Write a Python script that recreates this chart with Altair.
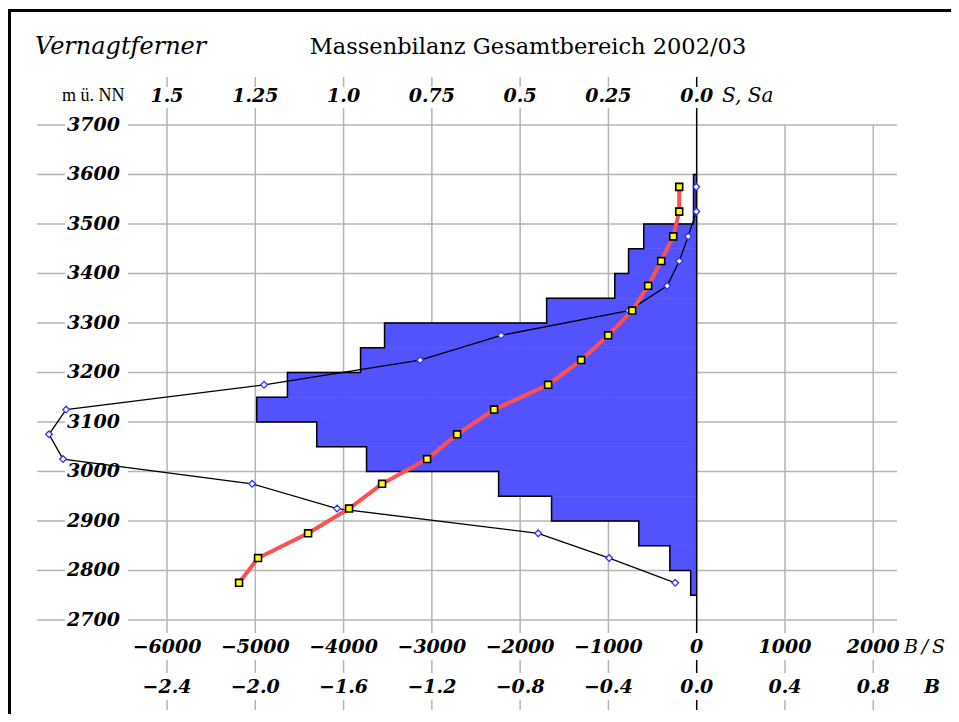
import altair as alt
import pandas as pd

# ---------------- data ----------------
BAND_BOTTOM = [2750, 2800, 2850, 2900, 2950, 3000, 3050, 3100, 3150,
               3200, 3250, 3300, 3350, 3400, 3450, 3500, 3550]
BAND_AREA_S = [0.017, 0.076, 0.164, 0.411, 0.561, 0.935, 1.076, 1.246, 1.159,
               0.952, 0.884, 0.425, 0.232, 0.193, 0.150, 0.009, 0.009]
BAND_CENTER = [2775, 2825, 2875, 2925, 2975, 3025, 3075, 3125, 3175,
               3225, 3275, 3325, 3375, 3425, 3475, 3525, 3575]
SPEC_BALANCE = [-5184, -4969, -4402, -3938, -3564, -3054, -2714, -2295, -1683,
                -1309, -1003, -731, -550, -402, -266, -198, -198]
BAND_BALANCE = [-244, -991, -1796, -4074, -5036, -7178, -7337, -7144, -4901,
                -3133, -2215, -770, -334, -198, -96, -5, -5]

Y_TICKS = [2700, 2800, 2900, 3000, 3100, 3200, 3300, 3400, 3500, 3600, 3700]
X_TICKS = [-6000, -5000, -4000, -3000, -2000, -1000, 0, 1000, 2000]
X_LABELS = ["\u22126000", "\u22125000", "\u22124000", "\u22123000", "\u22122000",
            "\u22121000", "0", "1000", "2000"]
S_TICKS = [1.5, 1.25, 1.0, 0.75, 0.5, 0.25, 0.0]
S_LABELS = ["1.5", "1.25", "1.0", "0.75", "0.5", "0.25", "0.0"]
B_TICKS = [-2.4, -2.0, -1.6, -1.2, -0.8, -0.4, 0.0, 0.4, 0.8]
B_LABELS = ["\u22122.4", "\u22122.0", "\u22121.6", "\u22121.2", "\u22120.8",
            "\u22120.4", "0.0", "0.4", "0.8"]

X_PER_S = -4000.0   # B/S-axis units per unit of S (top axis)
X_PER_B = 2500.0    # B/S-axis units per unit of B (bottom axis)
BAND = 50

# ---------------- tables ----------------
hist = pd.DataFrame({
    "x": [s * X_PER_S for s in BAND_AREA_S],
    "x2": [0.0] * len(BAND_AREA_S),
    "y": BAND_BOTTOM,
    "y2": [b + BAND for b in BAND_BOTTOM],
})

ox, oy = [0.0], [BAND_BOTTOM[0]]
for b, s in zip(BAND_BOTTOM, BAND_AREA_S):
    ox += [s * X_PER_S, s * X_PER_S]
    oy += [b, b + BAND]
ox.append(0.0)
oy.append(BAND_BOTTOM[-1] + BAND)
outline = pd.DataFrame({"x": ox, "y": oy, "i": list(range(len(ox)))})

prof = pd.DataFrame({"elev": BAND_CENTER, "b": SPEC_BALANCE, "B": BAND_BALANCE})

yt = pd.DataFrame({"elev": Y_TICKS, "label": [str(v) for v in Y_TICKS]})
xt = pd.DataFrame({"v": X_TICKS, "label": X_LABELS})
st = pd.DataFrame({"v": [s * X_PER_S for s in S_TICKS], "label": S_LABELS})
bt = pd.DataFrame({"v": [b * X_PER_B for b in B_TICKS], "label": B_LABELS})
one = pd.DataFrame({"k": [0]})

XS = alt.Scale(domain=[-7473, 2269], nice=False, zero=False)
YS = alt.Scale(domain=[2518, 3797], nice=False, zero=False)

GRID = "#b4b4b4"
SERIF = "DejaVu Serif"


def X(f):
    return alt.X(f, type="quantitative", scale=XS, axis=None)


def Y(f):
    return alt.Y(f, type="quantitative", scale=YS, axis=None)


layers = []

# frame: top and left edges as solid bars
layers.append(alt.Chart(one).mark_rect(color="black").encode(
    x=alt.value(-29), x2=alt.value(914), y=alt.value(-68), y2=alt.value(-65)))
layers.append(alt.Chart(one).mark_rect(color="black").encode(
    x=alt.value(-29), x2=alt.value(-26), y=alt.value(-68), y2=alt.value(637)))

# horizontal grid (gap for the elevation labels)
for a, b in [(0, 28), (91, 860)]:
    layers.append(alt.Chart(yt).mark_rule(color=GRID, strokeWidth=1.5).encode(
        y=Y("elev"), x=alt.value(a), x2=alt.value(b)))


def vgrid(color, cond):
    out = []
    segs = [("datum.v <= 0", 0, 10), ("datum.v <= 0", 31, 556),
            ("datum.v > 0", 48, 556), ("true", 583, 596), ("true", 623, 633)]
    for f, a, b in segs:
        out.append(alt.Chart(xt).transform_filter(f"({f}) && ({cond})")
                   .mark_rule(color=color, strokeWidth=1.5)
                   .encode(x=X("v"), y=alt.value(a), y2=alt.value(b)))
    return out


layers += vgrid(GRID, "datum.v != 0")

# histogram of glacier area per band
layers.append(alt.Chart(hist).mark_rect(color="#5252ff", stroke="#5252ff",
                                        strokeWidth=0.5).encode(
    x=X("x"), x2="x2", y=Y("y"), y2="y2"))
layers.append(alt.Chart(outline).mark_line(color="black", strokeWidth=1.5).encode(
    x=X("x"), y=Y("y"), order="i"))

# zero line
layers += vgrid("black", "datum.v == 0")

# band balance B (black line, blue diamonds)
layers.append(alt.Chart(prof).mark_line(color="black", strokeWidth=1.3).encode(
    x=X("B"), y=Y("elev"), order="elev"))
layers.append(alt.Chart(prof).mark_point(shape="diamond", fill="white", fillOpacity=1,
                                         stroke="#3030ff", strokeWidth=1.3,
                                         size=45, opacity=1).encode(
    x=X("B"), y=Y("elev")))

# specific balance b (red line, yellow squares)
layers.append(alt.Chart(prof).mark_line(color="#ff5050", strokeWidth=4).encode(
    x=X("b"), y=Y("elev"), order="elev"))
layers.append(alt.Chart(prof).mark_point(shape="square", fill="#ffff00", fillOpacity=1,
                                         stroke="black", strokeWidth=1.6,
                                         size=48, opacity=1).encode(
    x=X("b"), y=Y("elev")))

# tick labels
lab = dict(font=SERIF, fontSize=19, fontStyle="italic", fontWeight="bold", color="black")
layers.append(alt.Chart(yt).mark_text(align="right", baseline="middle", **lab).encode(
    y=Y("elev"), x=alt.value(83), text="label"))
layers.append(alt.Chart(st).mark_text(align="center", baseline="middle", **lab).encode(
    x=X("v"), y=alt.value(19), text="label"))
layers.append(alt.Chart(xt).mark_text(align="center", baseline="middle", **lab).encode(
    x=X("v"), y=alt.value(570), text="label"))
layers.append(alt.Chart(bt).mark_text(align="center", baseline="middle", **lab).encode(
    x=X("v"), y=alt.value(610), text="label"))

# axis names and titles
layers.append(alt.Chart(one).mark_text(align="left", baseline="middle", font="Liberation Serif",
                                       fontSize=18, color="black", text="m \u00fc. NN").encode(
    x=alt.value(25), y=alt.value(19)))
layers.append(alt.Chart(one).mark_text(align="left", baseline="middle", text="S, Sa",
                                       font=SERIF, fontSize=20, fontStyle="italic",
                                       color="black").encode(
    x=alt.value(685), y=alt.value(19)))
layers.append(alt.Chart(one).mark_text(align="left", baseline="middle",
                                       text="B\u2009/\u2009S",
                                       font=SERIF, fontSize=19, fontStyle="italic",
                                       color="black").encode(
    x=alt.value(867), y=alt.value(570)))
layers.append(alt.Chart(one).mark_text(align="center", baseline="middle", text="B", **lab).encode(
    x=alt.value(895), y=alt.value(610)))
layers.append(alt.Chart(one).mark_text(align="left", baseline="middle", font=SERIF, fontSize=24,
                                       fontStyle="italic", color="black",
                                       text="Vernagtferner").encode(
    x=alt.value(-2), y=alt.value(-30)))
layers.append(alt.Chart(one).mark_text(align="center", baseline="middle", font=SERIF, fontSize=22.5,
                                       color="black",
                                       text="Massenbilanz Gesamtbereich 2002/03").encode(
    x=alt.value(491), y=alt.value(-30)))

chart = alt.layer(*layers).properties(
    width=860, height=633,
    autosize=alt.AutoSizeParams(type="none"),
    padding={"left": 29, "top": 69, "right": 54, "bottom": 4},
    background="white",
).configure_view(strokeWidth=0)

chart.save("out.html", embed_options={"renderer": "svg", "actions": False})
